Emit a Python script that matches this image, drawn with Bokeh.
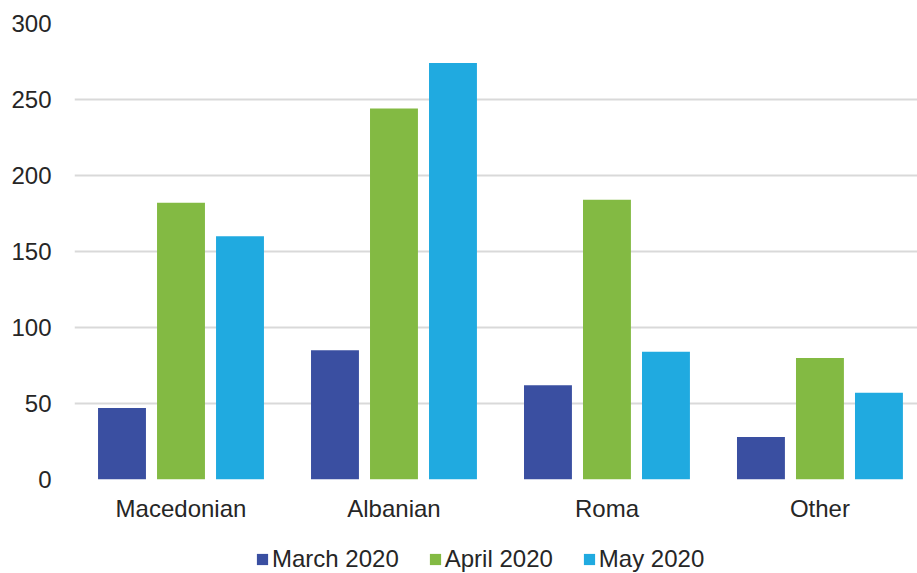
from bokeh.plotting import figure
from bokeh.layouts import column
from bokeh.models import Range1d, FixedTicker, Legend, LegendItem, ColumnDataSource
from bokeh.embed import file_html
from bokeh.resources import INLINE

categories = ["Macedonian", "Albanian", "Roma", "Other"]
series_names = ["March 2020", "April 2020", "May 2020"]
march = [47, 85, 62, 28]
april = [182, 244, 184, 80]
may = [160, 274, 84, 57]
colors = ["#3A4FA1", "#83BA43", "#20AAE0"]
y_ticks = [0, 50, 100, 150, 200, 250, 300]

FONT = "Liberation Sans"
TXT = "#262626"
FS = "24px"

p = figure(width=917, height=543, output_backend="svg", toolbar_location=None,
           x_range=Range1d(0, 3.958), y_range=Range1d(0, 300),
           min_border_left=74, min_border_top=23, min_border_right=0,
           min_border_bottom=64)
p.outline_line_color = None

centers = [i + 0.5 for i in range(len(categories))]
offsets = [-0.277, 0.0, 0.277]
bar_w = 0.225
for vals, off, col in zip([march, april, may], offsets, colors):
    src = ColumnDataSource(dict(x=[c + off for c in centers], top=vals))
    p.vbar(x="x", top="top", width=bar_w, bottom=0, source=src,
           fill_color=col, line_color=None)

# grid
p.xgrid.grid_line_color = None
p.ygrid.grid_line_color = "#d9d9d9"
p.ygrid.grid_line_width = 2
p.yaxis.ticker = FixedTicker(ticks=y_ticks)

# y axis
p.yaxis.axis_line_color = None
p.yaxis.major_tick_line_color = None
p.yaxis.minor_tick_line_color = None
p.yaxis.major_label_standoff = 17
p.yaxis.major_label_text_font = FONT
p.yaxis.major_label_text_font_size = FS
p.yaxis.major_label_text_color = TXT

# x axis
p.xaxis.ticker = FixedTicker(ticks=centers)
p.xaxis.major_label_overrides = {c: n for c, n in zip(centers, categories)}
p.xaxis.axis_line_color = None
p.xaxis.major_tick_line_color = None
p.xaxis.minor_tick_line_color = None
p.xaxis.major_label_standoff = 9
p.xaxis.major_label_text_font = FONT
p.xaxis.major_label_text_font_size = FS
p.xaxis.major_label_text_color = TXT

# legend strip
lg = figure(width=917, height=30, output_backend="svg", toolbar_location=None,
            x_range=Range1d(0, 1), y_range=Range1d(0, 1),
            x_axis_location=None, y_axis_location=None,
            min_border=0)
lg.outline_line_color = None
lg.grid.visible = False
items = []
for name, col in zip(series_names, colors):
    r = lg.vbar(x=[-5], top=[-5], bottom=-6, width=0.1, fill_color=col, line_color=None)
    items.append(LegendItem(label=name, renderers=[r]))
legend = Legend(items=items, orientation="horizontal", location=(181, 0),
                label_text_font=FONT, label_text_font_size=FS, label_text_color=TXT,
                glyph_width=14, glyph_height=14, label_standoff=3, spacing=29,
                padding=0, margin=0, border_line_color=None, background_fill_alpha=0)
lg.add_layout(legend)

layout = column(p, lg, spacing=0)
open("out.html", "w").write(file_html(layout, INLINE))
